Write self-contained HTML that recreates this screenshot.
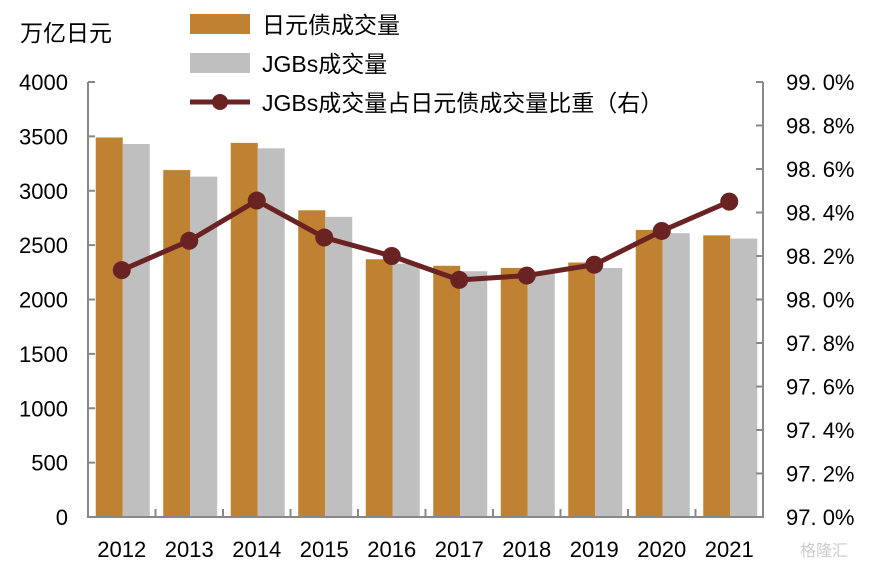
<!DOCTYPE html>
<html><head><meta charset="utf-8"><style>
body{margin:0;background:#fff;}
svg text{font-family:"Liberation Sans","Noto Sans CJK SC",sans-serif;}
</style></head><body>
<svg width="877" height="565" id="c">
<text x="20" y="41" font-size="23" fill="#000">万亿日元</text>
<g>
<rect x="190" y="14" width="60" height="20" fill="#BE8232"/>
<text x="262" y="33" font-size="23">日元债成交量</text>
<rect x="190" y="53" width="60" height="20" fill="#BFBFBF"/>
<text x="262" y="72" font-size="23">JGBs成交量</text>
<line x1="190" y1="102" x2="250" y2="102" stroke="#6B2222" stroke-width="5"/>
<circle cx="220" cy="102" r="8" fill="#6B2222"/>
<text x="262" y="111" font-size="23">JGBs成交量占日元债成交量比重（右）</text>
</g>
<g id="plot"></g>
<text x="800" y="556" font-size="16" fill="#ccc">格隆汇</text>
</svg>
<script>
const years=["2012","2013","2014","2015","2016","2017","2018","2019","2020","2021"];
const jpyVol=[3490,3190,3440,2820,2370,2310,2290,2340,2640,2590];
const jgbVol=[3430,3130,3390,2760,2330,2260,2250,2290,2610,2560];
const share=[98.135,98.27,98.455,98.285,98.2,98.09,98.11,98.16,98.315,98.45];
const leftTicks=[0,500,1000,1500,2000,2500,3000,3500,4000];
const rightTicks=[97.0,97.2,97.4,97.6,97.8,98.0,98.2,98.4,98.6,98.8,99.0];
const X0=88,X1=763,Y0=517,Y1=82;
const cw=(X1-X0)/years.length;
const yL=v=>Y0-(v/4000)*(Y0-Y1);
const yR=v=>Y0-((v-97)/2)*(Y0-Y1);
const xC=i=>X0+cw*(i+0.5);
const g=document.getElementById('plot');
const NS="http://www.w3.org/2000/svg";
function mk(t,a){const e=document.createElementNS(NS,t);for(const k in a)e.setAttribute(k,a[k]);g.appendChild(e);return e;}
years.forEach((y,i)=>{
 let e=mk('rect',{x:xC(i)-26,y:yL(jpyVol[i]),width:27,height:Y0-yL(jpyVol[i]),fill:'#BE8232'});
 
 
 e=mk('rect',{x:xC(i)+1,y:yL(jgbVol[i]),width:27,height:Y0-yL(jgbVol[i]),fill:'#BFBFBF'});
 
 
 e=mk('text',{x:xC(i),y:557,'font-size':22,'text-anchor':'middle'});e.textContent=y;
 
 
});
let ax=mk('path',{d:`M${X0},${Y1}V${Y0}H${X1}V${Y1}`,fill:'none',stroke:'#888',"stroke-width":2});


for(let i=0;i<=years.length;i++){const t=mk('line',{x1:X0+cw*i,x2:X0+cw*i,y1:Y0,y2:Y0-8,stroke:'#888','stroke-width':2});
 
 }
leftTicks.forEach(v=>{const t=mk('line',{x1:X0,x2:X0+7,y1:yL(v),y2:yL(v),stroke:'#888','stroke-width':2});
 
 
 const e=mk('text',{x:68,y:yL(v)+8,'font-size':22,'text-anchor':'end'});e.textContent=v;
 
 });
rightTicks.forEach(v=>{const t=mk('line',{x1:X1,x2:X1-7,y1:yR(v),y2:yR(v),stroke:'#888','stroke-width':2});
 
 
 const e=mk('text',{x:786,y:yR(v)+8,'font-size':22});e.textContent=v.toFixed(1).replace('.','. ')+'%';
 
 });
const ln=mk('polyline',{points:share.map((v,i)=>xC(i)+','+yR(v)).join(' '),fill:'none',stroke:'#6B2222','stroke-width':5});


share.forEach((v,i)=>{const c=mk('circle',{cx:xC(i),cy:yR(v),r:9,fill:'#6B2222'});
 
 });
</script>
</body></html>
